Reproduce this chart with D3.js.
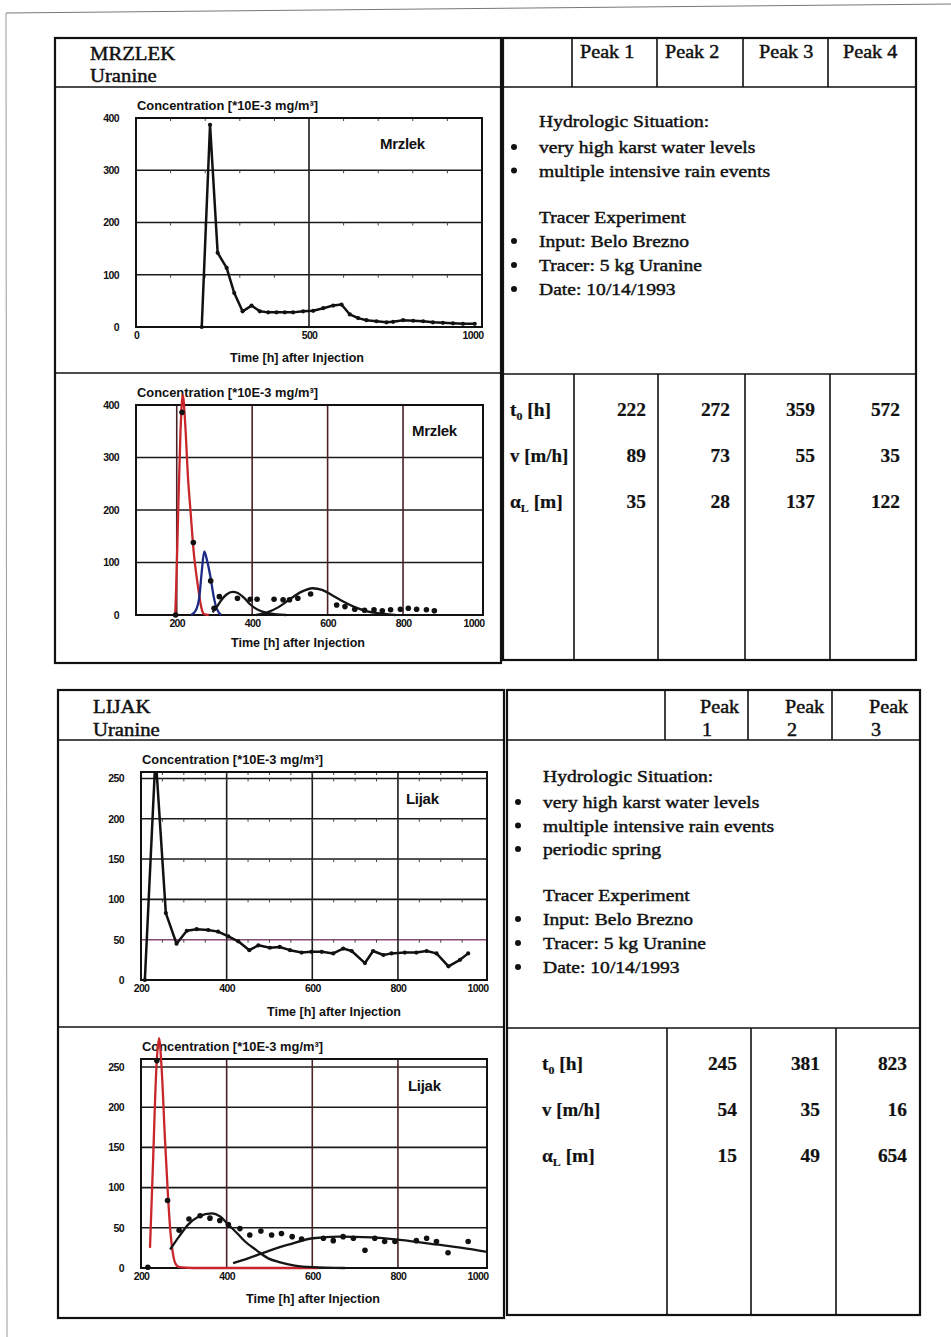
<!DOCTYPE html>
<html>
<head>
<meta charset="utf-8">
<script src="https://cdn.jsdelivr.net/npm/d3@7"></script>
<style>
  body { margin: 0; background: #fff; }
  svg { display: block; }
  .serif { font-family: "Liberation Serif", "Times New Roman", serif; fill: #111; }
  .sans { font-family: "Liberation Sans", Arial, sans-serif; fill: #111; }
</style>
</head>
<body>
<svg id="page"></svg>
<script>
// ---- data ----
// Mrzlek, measured uranine concentration [t (h), c (10E-3 mg/m3)]
const mrzlekRaw = [[190,0],[214,387],[236,142],[262,113],[284,65],[308,30],[334,41],[358,30],[382,28],[406,28],
  [430,28],[454,28],[483,30],[512,31],[541,36],[570,41],[594,43],[618,24],[642,17],[666,13],[695,11],[724,9],
  [743,10],[772,13],[801,12],[830,11],[858,9],[887,8],[916,7],[945,6],[979,6]];
// Mrzlek, points used for the fit
const mrzlekDots = [[197,0],[214,386],[244,138],[290,65],[299,13],[313,35],[361,32],[395,30],[413,30],[458,30],
  [482,29],[499,29],[521,32],[555,40],[624,19],[646,16],[672,11],[698,9],[723,10],[745,8],[767,10],[793,11],
  [814,13],[836,11],[862,10],[883,8]];
// Mrzlek, fitted peaks
const mrzlekPeak1 = [[196,0],[198,40],[204,200],[210,350],[216,419],[222,370],[230,260],[236,203],[245,120],[257,51],[265,15],[272,2],[285,0]];
const mrzlekPeak2 = [[238,0],[250,8],[260,35],[266,80],[273,121],[280,105],[290,70],[298,35],[306,12],[318,0]];
const mrzlekPeak3 = [[295,5],[305,14],[318,28],[332,39],[348,44],[362,42],[378,33],[395,20],[415,10],[439,4],[465,1],[490,0]];
const mrzlekPeak4 = [[410,0],[440,5],[470,15],[500,30],[530,44],[560,51],[585,48],[611,38],[640,26],[672,15],[705,7],[740,3],[780,0]];

// Lijak, measured concentration
const lijakRaw = [[209,0],[234,279],[258,83],[283,45],[307,61],[330,63],[357,62],[380,60],[404,54],[427,48],
  [453,37],[474,43],[501,40],[524,41],[548,37],[575,34],[598,35],[622,35],[649,33],[672,39],[692,36],[723,21],
  [742,36],[766,31],[785,33],[816,34],[843,34],[867,36],[890,33],[918,17],[945,25],[964,33]];
const lijakDots = [[216,1],[237,258],[262,84],[289,47],[312,61],[338,65],[361,62],[384,59],[404,54],[431,49],
  [454,41],[480,46],[505,41],[528,43],[553,39],[575,36],[626,37],[649,34],[672,39],[696,37],[723,22],[746,37],
  [769,33],[793,33],[843,34],[867,37],[890,33],[917,19],[964,33]];
const lijakPeak1 = [[221,25],[228,130],[236,250],[242,286],[248,250],[256,160],[263,90],[268,50],[274,20],[280,6],[290,1],[320,0],[614,0]];
const lijakPeak2 = [[268,23],[290,40],[310,54],[335,64],[365,68],[385,64],[404,54],[425,43],[443,33],[470,22],[497,12],[525,7],[559,3],[600,1],[676,0]];
const lijakPeak3 = [[415,6],[450,12],[497,21],[544,29],[602,37],[661,39],[738,38],[804,35],[894,29],[950,25],[1008,20]];

// tick labels
const yTicks400 = [0, 100, 200, 300, 400];
const yTicks250 = [0, 50, 100, 150, 200, 250];
const xTicksMrzlekRaw = [0, 500, 1000];
const xTicks200 = [200, 400, 600, 800, 1000];

// table contents
const mrzlekPeaks = ["Peak 1", "Peak 2", "Peak 3", "Peak 4"];
const mrzlekT0 = [222, 272, 359, 572];
const mrzlekV = [89, 73, 55, 35];
const mrzlekAlpha = [35, 28, 137, 122];
const lijakPeaks = ["1", "2", "3"];
const lijakT0 = [245, 381, 823];
const lijakV = [54, 35, 16];
const lijakAlpha = [15, 49, 654];
const mrzlekHydro = ["very high karst water levels", "multiple intensive rain events"];
const lijakHydro = ["very high karst water levels", "multiple intensive rain events", "periodic spring"];
const tracerLines = ["Input: Belo Brezno", "Tracer: 5 kg Uranine", "Date: 10/14/1993"];

const svg = d3.select("#page").attr("width", 951).attr("height", 1337);
svg.append("rect").attr("width", 951).attr("height", 1337).attr("fill", "#fff");

// scan edge of the page
svg.append("line").attr("x1", 6).attr("y1", 13).attr("x2", 951).attr("y2", 4).attr("stroke", "#777").attr("stroke-width", 1);
svg.append("line").attr("x1", 6).attr("y1", 13).attr("x2", 7).attr("y2", 1337).attr("stroke", "#999").attr("stroke-width", 1);

function line(x1, y1, x2, y2, w) {
  svg.append("line").attr("x1", x1).attr("y1", y1).attr("x2", x2).attr("y2", y2)
    .attr("stroke", "#111").attr("stroke-width", w || 1.6);
}
function box(x, y, w, h) {
  svg.append("rect").attr("x", x).attr("y", y).attr("width", w).attr("height", h)
    .attr("fill", "none").attr("stroke", "#111").attr("stroke-width", 2.2);
}
// serif text, widened and thickened a little like the scan
function stext(x, y, str, size, opt = {}) {
  const t = svg.append("text").attr("class", "serif")
    .attr("transform", `translate(${x},${y}) scale(${opt.sx || 1.12},1)`)
    .attr("font-size", size)
    .attr("font-weight", opt.bold ? "bold" : "normal")
    .attr("text-anchor", opt.anchor || "start")
    .attr("stroke", "#111").attr("stroke-width", opt.bold ? 0.2 : 0.45)
    .text(str);
  return t;
}
function subLabel(x, y, main, sub, rest) {
  const t = svg.append("text").attr("class", "serif")
    .attr("transform", `translate(${x},${y}) scale(1.08,1)`)
    .attr("font-size", 18).attr("font-weight", "bold")
    .attr("stroke", "#111").attr("stroke-width", 0.2);
  t.append("tspan").text(main);
  t.append("tspan").attr("font-size", 11).attr("dy", 4).text(sub);
  t.append("tspan").attr("dy", -4).text(rest);
}
function bullet(x, y) {
  svg.append("circle").attr("cx", x + 3).attr("cy", y - 6).attr("r", 3).attr("fill", "#111");
}

// ---------------- chart helper ----------------
function chart(cfg) {
  const x = d3.scaleLinear().domain(cfg.xDomain).range([cfg.left, cfg.right]);
  const y = d3.scaleLinear().domain(cfg.yDomain).range([cfg.bottom, cfg.top]);
  const g = svg.append("g");
  const clipId = "clip" + Math.round(cfg.top);
  g.append("clipPath").attr("id", clipId).append("rect")
    .attr("x", cfg.left).attr("y", cfg.top).attr("width", cfg.right - cfg.left).attr("height", cfg.bottom - cfg.top);

  // horizontal grid
  g.selectAll(".hg").data(cfg.hGrid).join("line")
    .attr("x1", cfg.left).attr("x2", cfg.right)
    .attr("y1", d => y(d)).attr("y2", d => y(d))
    .attr("stroke", d => (cfg.hColor && cfg.hColor(d)) || "#1a1a1a").attr("stroke-width", 1.6);
  // vertical grid
  g.selectAll(".vg").data(cfg.vGrid).join("line")
    .attr("x1", d => x(d)).attr("x2", d => x(d))
    .attr("y1", cfg.top).attr("y2", cfg.bottom)
    .attr("stroke", cfg.vColor || "#1a1a1a").attr("stroke-width", 1.6);
  // minor tick marks under the top border and the grid lines
  if (cfg.minor) {
    const rows = [cfg.yDomain[1]].concat(cfg.hGrid);
    rows.forEach(r => {
      g.selectAll(null).data(cfg.minor).join("line")
        .attr("x1", d => x(d)).attr("x2", d => x(d))
        .attr("y1", Math.max(y(r), cfg.top)).attr("y2", Math.max(y(r), cfg.top) + 3)
        .attr("stroke", "#444").attr("stroke-width", 1);
    });
  }
  // frame
  g.append("rect").attr("x", cfg.left).attr("y", cfg.top)
    .attr("width", cfg.right - cfg.left).attr("height", cfg.bottom - cfg.top)
    .attr("fill", "none").attr("stroke", "#111").attr("stroke-width", 2);

  // axes (labels only)
  const ya = g.append("g").attr("transform", `translate(${cfg.left - 17},0)`)
    .call(d3.axisLeft(y).tickValues(cfg.yTicks).tickFormat(d3.format("d")).tickSize(0).tickPadding(0));
  const xa = g.append("g").attr("transform", `translate(0,${cfg.bottom})`)
    .call(d3.axisBottom(x).tickValues(cfg.xTicks).tickFormat(d3.format("d")).tickSize(0).tickPadding(5));
  [ya, xa].forEach(a => {
    a.select(".domain").remove();
    a.selectAll("text").attr("class", "sans").attr("font-size", 10.5).attr("font-weight", "bold")
      .attr("letter-spacing", -0.6).attr("fill", "#111");
  });
  xa.selectAll(".tick").filter(d => d === 1000).select("text")
    .attr("text-anchor", "end").attr("x", cfg.right - x(1000) + 1);

  // titles
  g.append("text").attr("class", "sans").attr("x", cfg.left + 1).attr("y", cfg.titleY)
    .attr("font-size", 12.5).attr("font-weight", "bold")
    .attr("textLength", 181).attr("lengthAdjust", "spacingAndGlyphs")
    .text("Concentration [*10E-3 mg/m³]");
  g.append("text").attr("class", "sans").attr("x", cfg.xTitleX).attr("y", cfg.xTitleY)
    .attr("text-anchor", "middle").attr("font-size", 12.5).attr("font-weight", "bold")
    .attr("textLength", 134).attr("lengthAdjust", "spacingAndGlyphs")
    .text("Time [h] after Injection");
  g.append("text").attr("class", "sans").attr("x", cfg.labelX).attr("y", cfg.labelY)
    .attr("font-size", 15).attr("font-weight", "bold").attr("letter-spacing", -0.3).text(cfg.label);

  const lineGen = d3.line().x(d => x(d[0])).y(d => y(d[1]));
  const curveGen = d3.line().x(d => x(d[0])).y(d => y(d[1])).curve(d3.curveMonotoneX);

  if (cfg.raw) {
    g.append("path").datum(cfg.raw).attr("clip-path", `url(#${clipId})`)
      .attr("d", lineGen).attr("fill", "none").attr("stroke", "#111").attr("stroke-width", 2.5)
      .attr("stroke-linejoin", "round");
    g.selectAll(".mk").data(cfg.raw.filter(d => d[1] <= cfg.yDomain[1])).join("circle")
      .attr("cx", d => x(d[0])).attr("cy", d => y(d[1])).attr("r", 2.1).attr("fill", "#111");
  }
  if (cfg.fits) {
    cfg.fits.forEach(f => {
      g.append("path").datum(f.data).attr("d", curveGen).attr("fill", "none")
        .attr("stroke", f.color).attr("stroke-width", 2.3);
    });
  }
  if (cfg.dots) {
    g.selectAll(".dot").data(cfg.dots).join("circle")
      .attr("cx", d => x(d[0])).attr("cy", d => y(Math.min(d[1], cfg.yDomain[1])))
      .attr("r", 2.8).attr("fill", "#111");
  }
}

// ================= MRZLEK block =================
box(55, 38, 446, 625);
line(55, 87, 501, 87);
line(55, 373, 501, 373);
box(503, 38, 413, 622);
line(503, 87, 916, 87);
line(503, 374, 916, 374);
[572, 657, 743, 828].forEach(cx => line(cx, 38, cx, 87));
[574, 658, 745, 830].forEach(cx => line(cx, 374, cx, 660));

stext(90, 60, "MRZLEK", 18.5);
stext(90, 82, "Uranine", 18.5);
const mPeakX = [580, 665, 759, 843];
mrzlekPeaks.forEach((p, i) => stext(mPeakX[i], 58, p, 18));

stext(539, 127, "Hydrologic Situation:", 17.5);
mrzlekHydro.forEach((s, i) => {
  bullet(511, 153 + i * 23.5);
  stext(539, 153 + i * 23.5, s, 17.5);
});
stext(539, 223, "Tracer Experiment", 17.5);
tracerLines.forEach((s, i) => {
  bullet(511, 247 + i * 24);
  stext(539, 247 + i * 24, s, 17.5);
});

subLabel(510, 416, "t", "0", " [h]");
stext(510, 462, "v [m/h]", 18, { bold: true, sx: 1.05 });
subLabel(510, 508, "α", "L", " [m]");
const mValX = [646, 730, 815, 900];
[mrzlekT0, mrzlekV, mrzlekAlpha].forEach((row, r) => {
  row.forEach((v, i) => stext(mValX[i], 416 + r * 46, v, 18.5, { bold: true, sx: 1.05, anchor: "end" }));
});

chart({
  left: 136, right: 482, top: 118, bottom: 327,
  xDomain: [0, 1000], yDomain: [0, 400],
  xTicks: xTicksMrzlekRaw, yTicks: yTicks400,
  hGrid: [100, 200, 300], vGrid: [500],
  minor: d3.range(100, 1000, 100),
  titleY: 110, xTitleX: 297, xTitleY: 362,
  label: "Mrzlek", labelX: 380, labelY: 149,
  raw: mrzlekRaw
});

chart({
  left: 136, right: 483, top: 405, bottom: 615,
  xDomain: [92, 1012], yDomain: [0, 400],
  xTicks: xTicks200, yTicks: yTicks400,
  hGrid: [100, 200, 300], vGrid: [200, 400, 600, 800], vColor: "#4a2226",
  titleY: 397, xTitleX: 298, xTitleY: 647,
  label: "Mrzlek", labelX: 412, labelY: 436,
  dots: mrzlekDots,
  fits: [
    { data: mrzlekPeak1, color: "#c8262b" },
    { data: mrzlekPeak2, color: "#1c2a86" },
    { data: mrzlekPeak3, color: "#161616" },
    { data: mrzlekPeak4, color: "#161616" }
  ]
});

// ================= LIJAK block =================
box(58, 690, 446, 628);
line(58, 740, 504, 740);
line(58, 1027, 504, 1027);
box(507, 690, 413, 625);
line(507, 740, 920, 740);
line(507, 1028, 920, 1028);
[665, 748, 832].forEach(cx => line(cx, 690, cx, 740));
[667, 751, 836].forEach(cx => line(cx, 1028, cx, 1315));

stext(93, 713, "LIJAK", 18.5);
stext(93, 736, "Uranine", 18.5);
const lPeakX = [700, 785, 869];
lijakPeaks.forEach((p, i) => {
  stext(lPeakX[i], 713, "Peak", 18);
  stext(lPeakX[i] + 2, 736, p, 18);
});

stext(543, 782, "Hydrologic Situation:", 17.5);
lijakHydro.forEach((s, i) => {
  bullet(515, 808 + i * 23.5);
  stext(543, 808 + i * 23.5, s, 17.5);
});
stext(543, 901, "Tracer Experiment", 17.5);
tracerLines.forEach((s, i) => {
  bullet(515, 925 + i * 24);
  stext(543, 925 + i * 24, s, 17.5);
});

subLabel(542, 1070, "t", "0", " [h]");
stext(542, 1116, "v [m/h]", 18, { bold: true, sx: 1.05 });
subLabel(542, 1162, "α", "L", " [m]");
const lValX = [737, 820, 907];
[lijakT0, lijakV, lijakAlpha].forEach((row, r) => {
  row.forEach((v, i) => stext(lValX[i], 1070 + r * 46, v, 18.5, { bold: true, sx: 1.05, anchor: "end" }));
});

chart({
  left: 141, right: 487, top: 772, bottom: 980,
  xDomain: [200, 1008], yDomain: [0, 258],
  xTicks: xTicks200, yTicks: yTicks250,
  hGrid: [50, 100, 150, 200, 250], vGrid: [400, 600, 800],
  hColor: d => d === 50 ? "#8a4a78" : null,
  minor: d3.range(250, 1000, 50),
  titleY: 764, xTitleX: 334, xTitleY: 1016,
  label: "Lijak", labelX: 406, labelY: 804,
  raw: lijakRaw
});

chart({
  left: 141, right: 487, top: 1059, bottom: 1268,
  xDomain: [200, 1008], yDomain: [0, 260],
  xTicks: xTicks200, yTicks: yTicks250,
  hGrid: [50, 100, 150, 200, 250], vGrid: [400, 600, 800], vColor: "#4a2226",
  titleY: 1051, xTitleX: 313, xTitleY: 1303,
  label: "Lijak", labelX: 408, labelY: 1091,
  dots: lijakDots,
  fits: [
    { data: lijakPeak1, color: "#c8262b" },
    { data: lijakPeak2, color: "#161616" },
    { data: lijakPeak3, color: "#161616" }
  ]
});
</script>
</body>
</html>
